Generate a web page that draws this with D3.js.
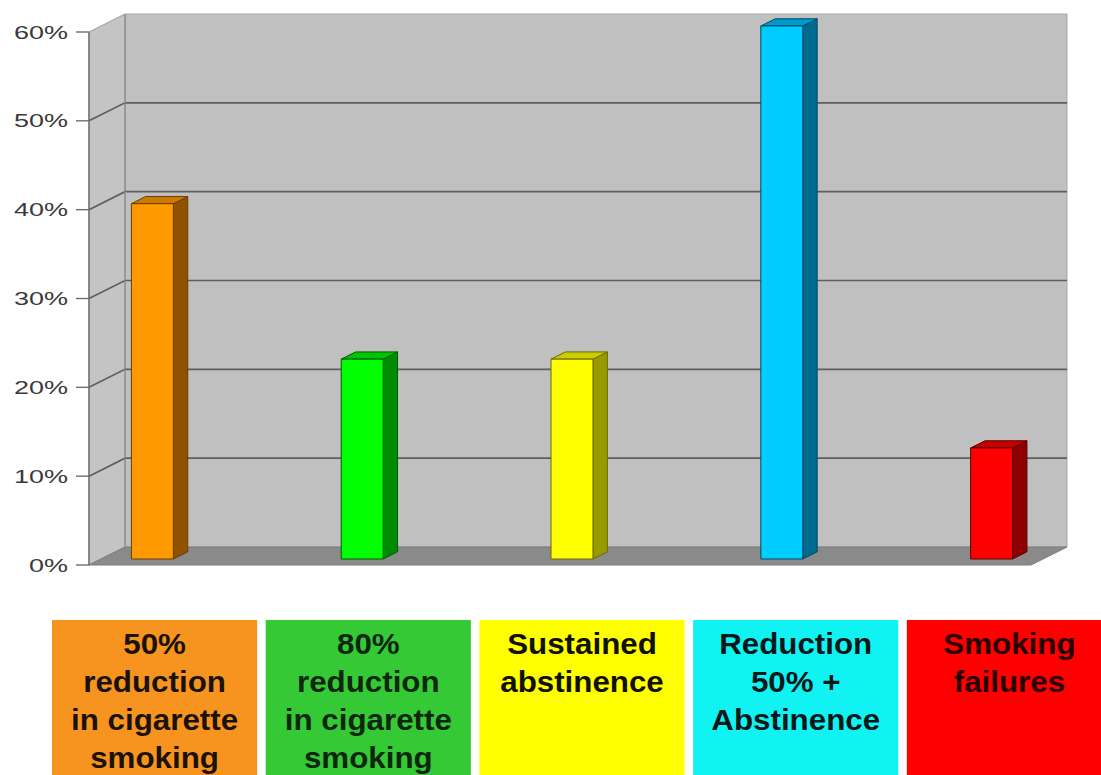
<!DOCTYPE html>
<html>
<head>
<meta charset="utf-8">
<script src="https://cdn.jsdelivr.net/npm/d3@7"></script>
<style>
  html, body { margin: 0; padding: 0; background: #fff; }
  svg { display: block; }
</style>
</head>
<body>
<svg id="chart" width="1101" height="775"></svg>
<script>
// ---- data ----
const categories = [
  "50% reduction in cigarette smoking",
  "80% reduction in cigarette smoking",
  "Sustained abstinence",
  "Reduction 50% + Abstinence",
  "Smoking failures"
];
const values = [40, 22.5, 22.5, 60, 12.5];
const legendLines = [
  ["50%", "reduction", "in cigarette", "smoking"],
  ["80%", "reduction", "in cigarette", "smoking"],
  ["Sustained", "abstinence"],
  ["Reduction", "50% +", "Abstinence"],
  ["Smoking", "failures"]
];
const yTicks = [0, 10, 20, 30, 40, 50, 60];
const tickLabels = ["0%", "10%", "20%", "30%", "40%", "50%", "60%"];

// ---- colours ----
const barFront = ["#ff9900", "#00ff00", "#ffff00", "#00ccff", "#ff0000"];
const barSide  = ["#8f5200", "#008a00", "#999900", "#006b8f", "#8f0000"];
const barTop   = ["#cc7a00", "#00c400", "#cccc00", "#0099cc", "#c40000"];
const barEdge  = ["#6b3d00", "#005c00", "#6b6b00", "#004a63", "#5c0000"];
const boxFill  = ["#f7941f", "#36c936", "#ffff00", "#11f2f2", "#ff0000"];
const boxText  = ["#1a1208", "#0d260d", "#111100", "#061818", "#2a0000"];

// ---- geometry ----
const svg = d3.select("#chart");
const plotLeft = 89, plotWidth = 942;
const depthX = 36, depthY = -18;           // offset of the back wall
const y = d3.scaleLinear().domain([0, 60]).range([565, 32]);
const x = d3.scaleBand().domain(categories).range([0, plotWidth])
  .paddingInner(0.8).paddingOuter(0.145);
const barT0 = 0.333, barT1 = 0.733;        // bar depth slice

// project (front-plane x, value, depth fraction) onto the screen
const P = (xf, v, t) => [plotLeft + xf + t * depthX, y(v) + t * depthY];
const poly = pts => pts.map(p => p.join(",")).join(" ");

// walls and floor
svg.append("polygon")
  .attr("points", poly([P(0,0,1), P(plotWidth,0,1), P(plotWidth,60,1), P(0,60,1)]))
  .attr("fill", "#c0c0c0").attr("stroke", "#a8a8a8").attr("stroke-width", 1);
svg.append("polygon")
  .attr("points", poly([P(0,0,0), P(0,0,1), P(0,60,1), P(0,60,0)]))
  .attr("fill", "#c4c4c4").attr("stroke", "#9a9a9a").attr("stroke-width", 1);
svg.append("polygon")
  .attr("points", poly([P(0,0,0), P(plotWidth,0,0), P(plotWidth,0,1), P(0,0,1)]))
  .attr("fill", "#8a8a8a").attr("stroke", "#7a7a7a").attr("stroke-width", 1);

// gridlines across left wall and back wall
svg.append("g").selectAll("polyline")
  .data(yTicks.filter(v => v > 0 && v < 60))
  .join("polyline")
  .attr("points", v => poly([P(0,v,0), P(0,v,1), P(plotWidth,v,1)]))
  .attr("fill", "none").attr("stroke", "#5e5e5e").attr("stroke-width", 1.6);

// back-left corner and front axis line
svg.append("line")
  .attr("x1", P(0,0,1)[0]).attr("y1", P(0,0,1)[1])
  .attr("x2", P(0,60,1)[0]).attr("y2", P(0,60,1)[1])
  .attr("stroke", "#8e8e8e").attr("stroke-width", 1.2);
svg.append("line")
  .attr("x1", plotLeft).attr("y1", y(0)).attr("x2", plotLeft).attr("y2", y(60))
  .attr("stroke", "#6e6e6e").attr("stroke-width", 1.4);

// y axis ticks and labels
const axis = svg.append("g");
axis.selectAll("line").data(yTicks).join("line")
  .attr("x1", plotLeft - 13).attr("x2", plotLeft)
  .attr("y1", v => y(v)).attr("y2", v => y(v))
  .attr("stroke", "#6e6e6e").attr("stroke-width", 1.4);
axis.selectAll("text").data(yTicks).join("text")
  .attr("transform", v => `translate(${plotLeft - 21},${y(v) + 6.5}) scale(1.5,1)`)
  .attr("text-anchor", "end")
  .attr("font-family", "Liberation Sans, Arial, sans-serif")
  .attr("font-size", 18)
  .attr("fill", "#3a3a3a")
  .text((v, i) => tickLabels[i]);

// 3D columns
const bars = svg.append("g").selectAll("g").data(categories).join("g");
bars.each(function (c, i) {
  const g = d3.select(this);
  const x0 = x(c), x1 = x0 + x.bandwidth(), v = values[i];
  g.append("polygon")
    .attr("points", poly([P(x1,0,barT0), P(x1,0,barT1), P(x1,v,barT1), P(x1,v,barT0)]))
    .attr("fill", barSide[i]).attr("stroke", barEdge[i]).attr("stroke-width", 1);
  g.append("polygon")
    .attr("points", poly([P(x0,v,barT0), P(x1,v,barT0), P(x1,v,barT1), P(x0,v,barT1)]))
    .attr("fill", barTop[i]).attr("stroke", barEdge[i]).attr("stroke-width", 1);
  g.append("polygon")
    .attr("points", poly([P(x0,0,barT0), P(x1,0,barT0), P(x1,v,barT0), P(x0,v,barT0)]))
    .attr("fill", barFront[i]).attr("stroke", barEdge[i]).attr("stroke-width", 1);
});

// category boxes underneath
const lx = d3.scaleBand().domain(categories).range([52, 1112]).paddingInner(0.04);
const legend = svg.append("g").selectAll("g").data(categories).join("g");
legend.append("rect")
  .attr("x", c => lx(c)).attr("y", 620)
  .attr("width", lx.bandwidth()).attr("height", 160)
  .attr("fill", (c, i) => boxFill[i]);
legend.each(function (c, i) {
  const g = d3.select(this);
  const cx = lx(c) + lx.bandwidth() / 2;
  legendLines[i].forEach((line, k) => {
    g.append("text")
      .attr("transform", `translate(${cx},${654 + k * 38}) scale(1.08,1)`)
      .attr("text-anchor", "middle")
      .attr("font-family", "Liberation Sans, Arial, sans-serif")
      .attr("font-weight", "bold")
      .attr("font-size", 29)
      .attr("fill", boxText[i])
      .text(line);
  });
});
</script>
</body>
</html>
